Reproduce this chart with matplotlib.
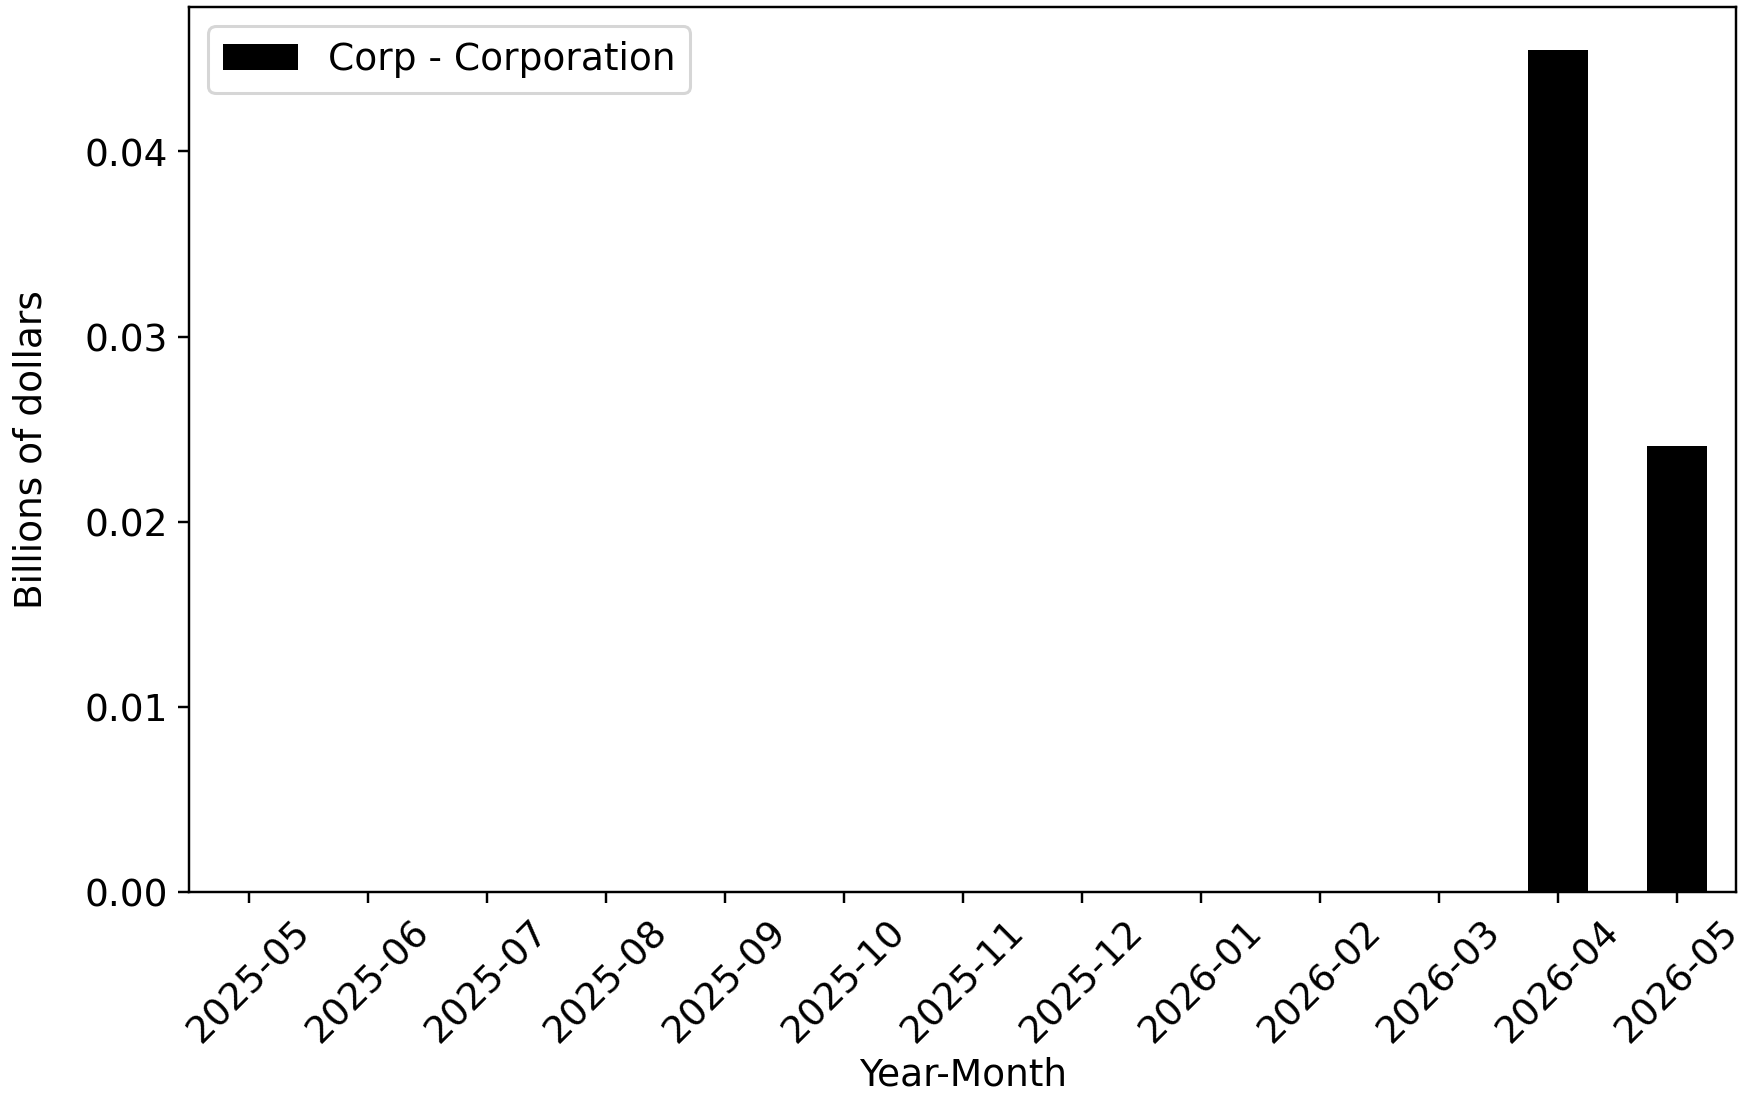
import matplotlib
matplotlib.use("Agg")
import matplotlib.pyplot as plt
import numpy as np

months = ["2025-05", "2025-06", "2025-07", "2025-08", "2025-09", "2025-10",
          "2025-11", "2025-12", "2026-01", "2026-02", "2026-03", "2026-04", "2026-05"]
corp_values = [0, 0, 0, 0, 0, 0, 0, 0, 0, 0, 0, 0.0455, 0.0241]
series_label = "Corp - Corporation"

plt.rcParams['font.size'] = 12.3
fig = plt.figure(figsize=(8, 5), dpi=219.25)
ax = fig.add_axes([0.108, 0.186, 0.882, 0.807])
x = np.arange(len(months))
ax.bar(x, corp_values, width=0.5, color="black", label=series_label)
ax.set_xlim(-0.5, len(months) - 0.5)
ax.set_xticks(x)
ax.set_xticklabels(months, rotation=45)
ax.set_yticks([0.0, 0.01, 0.02, 0.03, 0.04])
ax.set_xlabel("Year-Month", labelpad=2)
ax.set_ylabel("Billions of dollars")
ax.yaxis.set_label_coords(-0.0905, 0.5)
ax.legend(loc="upper left")
fig.savefig("out.png", dpi=219.25)
